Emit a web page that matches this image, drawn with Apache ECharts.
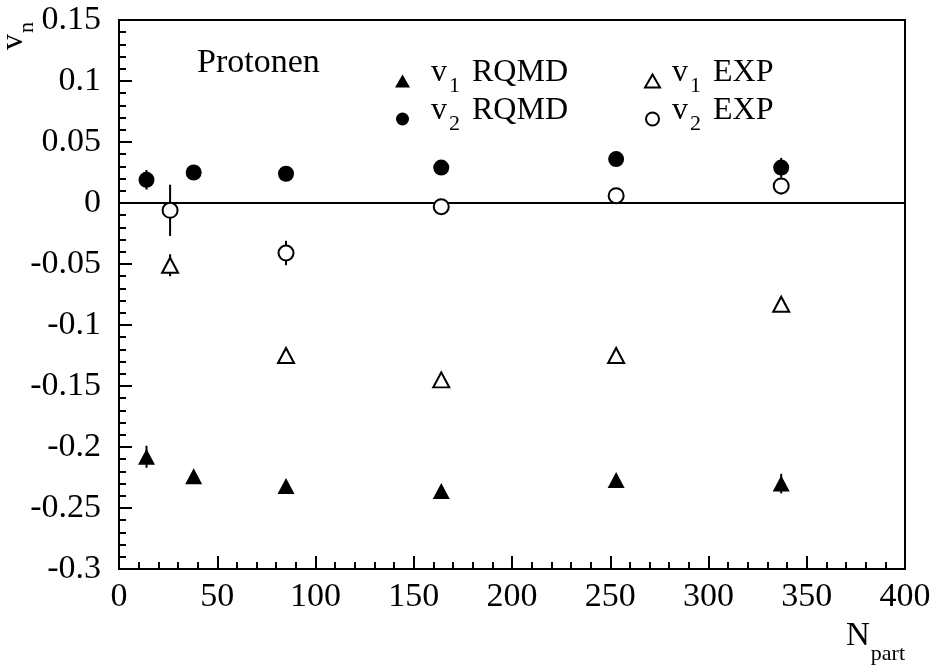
<!DOCTYPE html>
<html>
<head>
<meta charset="utf-8">
<script src="https://cdn.jsdelivr.net/npm/echarts@6/dist/echarts.min.js"></script>
<style>html,body{margin:0;padding:0;background:#fff}#c{width:934px;height:668px}</style>
</head>
<body>
<div id="c"></div>
<script>
// ---- data ----
var nPartRQMD = [14, 38, 85, 164, 253, 337];
var v1RQMD    = [-0.208, -0.224, -0.232, -0.236, -0.227, -0.230];
var v1RQMDErr = [0.009, 0.003, 0.003, 0.003, 0.003, 0.008];
var v2RQMD    = [0.019, 0.025, 0.024, 0.029, 0.036, 0.029];
var v2RQMDErr = [0.008, 0.003, 0.003, 0.003, 0.003, 0.008];

var nPartEXP  = [26, 85, 164, 253, 337];
var v1EXP     = [-0.051, -0.125, -0.145, -0.125, -0.083];
var v1EXPErr  = [0.009, 0.006, 0.006, 0.006, 0.004];
var v2EXP     = [-0.006, -0.041, -0.003, 0.006, 0.014];
var v2EXPErr  = [0.021, 0.010, 0.003, 0.005, 0.007];

var yTickLabels = ['-0.3','-0.25','-0.2','-0.15','-0.1','-0.05','0','0.05','0.1','0.15'];
var xTickLabels = ['0','50','100','150','200','250','300','350','400'];
var seriesNames = ['v1 RQMD', 'v2 RQMD', 'v1 EXP', 'v2 EXP'];

var FONT = '"Liberation Serif", "DejaVu Serif", serif';

function pts(xs, ys) { return xs.map(function (x, i) { return [x, ys[i]]; }); }
function errPts(xs, ys, es) { return xs.map(function (x, i) { return [x, ys[i], es[i]]; }); }

function errSeries(data) {
  return {
    type: 'custom', silent: true, z: 2,
    data: data,
    renderItem: function (params, api) {
      var x = api.value(0), y = api.value(1), e = api.value(2);
      var p1 = api.coord([x, y - e]), p2 = api.coord([x, y + e]);
      return { type: 'line', shape: { x1: p1[0], y1: p1[1], x2: p2[0], y2: p2[1] },
               style: { stroke: '#000', lineWidth: 2 } };
    }
  };
}

var rich = {
  v: { fontFamily: FONT, fontSize: 32, lineHeight: 32, color: '#000', padding: [7, 0, 8, 0], verticalAlign: 'bottom' },
  s: { fontFamily: FONT, fontSize: 22, lineHeight: 22, color: '#000', padding: [25, 4, 0, 2], verticalAlign: 'bottom' }
};
function legendFmt(name) {
  var idx = name.charAt(1), rest = name.substring(2);
  return '{v|v}{s|' + idx + '}{v|' + rest + '}';
}

var chart = echarts.init(document.getElementById('c'), null, { renderer: 'canvas' });
chart.setOption({
  animation: false,
  backgroundColor: '#fff',
  grid: { left: 119, right: 29, top: 20, bottom: 99, show: true, borderColor: '#000', borderWidth: 2, backgroundColor: 'transparent' },
  xAxis: {
    type: 'value', min: 0, max: 400, interval: 50,
    axisLine: { show: true, onZero: false, lineStyle: { color: '#000', width: 2 } },
    axisTick: { show: true, inside: true, length: 13, lineStyle: { color: '#000', width: 2 } },
    minorTick: { show: true, splitNumber: 5, length: 7, lineStyle: { color: '#000', width: 2 } },
    splitLine: { show: false },
    axisLabel: { color: '#000', fontFamily: FONT, fontSize: 34, margin: 11,
      formatter: function (v) { return xTickLabels[Math.round(v / 50)]; } }
  },
  yAxis: {
    type: 'value', min: -0.3, max: 0.15, interval: 0.05,
    axisLine: { show: true, onZero: false, lineStyle: { color: '#000', width: 2 } },
    axisTick: { show: true, inside: true, length: 13, lineStyle: { color: '#000', width: 2 } },
    minorTick: { show: true, splitNumber: 5, length: 7, lineStyle: { color: '#000', width: 2 } },
    splitLine: { show: false },
    axisLabel: { color: '#000', fontFamily: FONT, fontSize: 34, margin: 18,
      formatter: function (v) { return yTickLabels[Math.round((v + 0.3) / 0.05)]; } }
  },
  legend: [
    { data: [seriesNames[0], seriesNames[1]], orient: 'vertical', left: 390, top: 45,
      itemWidth: 15, itemHeight: 13, itemGap: -9, selectedMode: false,
      formatter: legendFmt, textStyle: { rich: rich, padding: [0, 0, 0, 16] } },
    { data: [seriesNames[2], seriesNames[3]], orient: 'vertical', left: 639, top: 45,
      itemWidth: 15, itemHeight: 13, itemGap: -9, selectedMode: false,
      formatter: legendFmt, textStyle: { rich: rich, padding: [0, 0, 0, 7] } }
  ],
  graphic: [
    { type: 'text', left: 197, top: 46, style: { text: 'Protonen', fontFamily: FONT, fontSize: 34, fill: '#000' } },
    { type: 'text', x: 6, y: 50, rotation: Math.PI / 2,
      style: { text: '{a|v}{b|n}', rich: {
        a: { fontFamily: FONT, fontSize: 32, lineHeight: 32, fill: '#000', padding: [0, 0, 8, 0], verticalAlign: 'bottom' },
        b: { fontFamily: FONT, fontSize: 22, lineHeight: 22, fill: '#000', padding: [18, 0, 0, 1], verticalAlign: 'bottom' } } } },
    { type: 'text', right: 29, top: 620,
      style: { text: '{a|N}{b|part}', rich: {
        a: { fontFamily: FONT, fontSize: 33, lineHeight: 33, fill: '#000', padding: [0, 0, 12, 0], verticalAlign: 'bottom' },
        b: { fontFamily: FONT, fontSize: 22, lineHeight: 22, fill: '#000', padding: [23, 0, 0, 1], verticalAlign: 'bottom' } } } }
  ],
  series: [
    errSeries(errPts(nPartRQMD, v1RQMD, v1RQMDErr)),
    errSeries(errPts(nPartRQMD, v2RQMD, v2RQMDErr)),
    errSeries(errPts(nPartEXP, v1EXP, v1EXPErr)),
    errSeries(errPts(nPartEXP, v2EXP, v2EXPErr)),
    { name: seriesNames[0], type: 'scatter', z: 5, symbol: 'triangle', symbolSize: [17, 16],
      itemStyle: { color: '#000', opacity: 1 }, data: pts(nPartRQMD, v1RQMD),
      markLine: { silent: true, symbol: 'none', label: { show: false },
        lineStyle: { color: '#000', type: 'solid', width: 2 }, data: [{ yAxis: 0 }] } },
    { name: seriesNames[1], type: 'scatter', z: 5, symbol: 'circle', symbolSize: 16,
      itemStyle: { color: '#000', opacity: 1 }, data: pts(nPartRQMD, v2RQMD) },
    { name: seriesNames[2], type: 'scatter', z: 5, symbol: 'triangle', symbolSize: [16, 15],
      itemStyle: { color: '#fff', borderColor: '#000', borderWidth: 2, opacity: 1 }, data: pts(nPartEXP, v1EXP) },
    { name: seriesNames[3], type: 'scatter', z: 5, symbol: 'circle', symbolSize: 15,
      itemStyle: { color: '#fff', borderColor: '#000', borderWidth: 2, opacity: 1 }, data: pts(nPartEXP, v2EXP) }
  ]
});
</script>
</body>
</html>
